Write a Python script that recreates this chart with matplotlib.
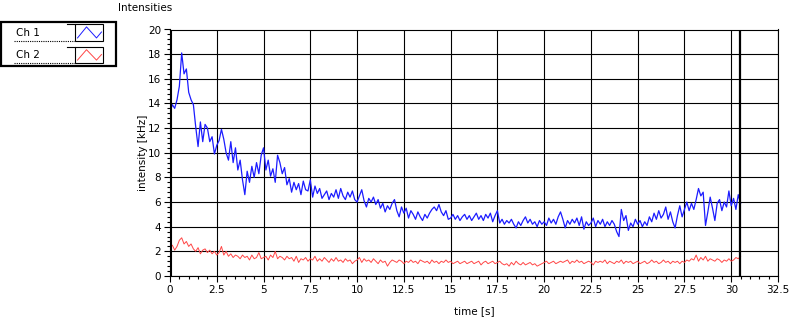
import numpy as np
import matplotlib
matplotlib.use('Agg')
import matplotlib.pyplot as plt
from matplotlib.ticker import MultipleLocator, FuncFormatter
from matplotlib.patches import Rectangle

plt.rcParams['font.family'] = 'DejaVu Sans'
plt.rcParams['font.size'] = 7.5

# sample spacing in seconds
dt = 0.125

ch1 = [
    13.3, 13.9, 13.6, 14.3, 15.4, 18.1, 16.4, 16.8,
    14.9, 14.3, 13.9, 12.1, 10.5, 12.5, 10.9, 12.3,
    12.0, 10.9, 11.3, 9.9, 10.6, 11.0, 11.9, 11.1,
    10.0, 9.4, 10.9, 9.2, 10.4, 8.6, 9.4, 7.8,
    6.6, 8.5, 7.6, 8.9, 8.0, 9.2, 8.3, 9.8,
    10.4, 8.6, 9.4, 8.1, 8.7, 7.6, 9.8, 9.2,
    8.3, 8.8, 7.4, 7.9, 6.8, 7.6, 7.0, 7.5,
    6.6, 7.7, 7.0, 6.9, 7.8, 6.4, 7.3, 6.7,
    7.1, 6.3, 6.6, 6.9, 6.2, 6.7, 6.4, 7.0,
    6.3, 7.1, 6.5, 6.2, 6.8, 6.4, 6.9, 6.2,
    6.0, 6.5, 7.0, 6.1, 5.6, 6.3, 6.0, 6.4,
    5.8, 6.2, 5.5, 5.9, 5.2, 5.7, 5.4, 5.9,
    6.2, 5.3, 4.8, 5.6, 5.1, 5.5, 4.7, 5.3,
    5.0, 4.6, 5.2, 4.8, 4.5, 5.0, 4.7, 5.1,
    5.4, 5.6, 5.3, 5.8, 5.2, 4.9, 5.3, 4.6,
    4.7, 5.0, 4.6, 4.9, 4.5, 4.8, 5.0, 4.6,
    4.9, 4.5, 4.8, 5.1, 4.6, 4.9, 4.5, 5.0,
    4.7, 5.1, 4.4, 4.9, 5.3, 4.3, 4.6, 4.2,
    4.5, 4.3, 4.6, 4.2, 3.9, 4.4, 4.1, 4.5,
    4.8, 4.3, 4.6, 4.2, 4.4, 4.0, 4.5, 4.2,
    4.4, 4.1, 4.7, 4.3, 4.6, 4.2, 4.8, 5.2,
    4.6, 3.9, 4.5, 4.2, 4.6, 4.3, 4.7, 4.1,
    4.8, 3.8, 4.4, 4.1, 4.3, 4.7, 4.0, 4.5,
    4.2, 4.6, 4.0, 4.4, 4.1, 4.5, 4.2, 3.6,
    3.2, 5.4, 4.5, 4.9, 3.7, 4.3, 4.0, 4.6,
    4.2, 4.5, 4.0, 4.4, 4.1, 4.8, 4.4, 5.1,
    4.6, 5.3, 4.7, 5.0, 5.6, 4.6, 5.2, 4.4,
    3.9, 4.9, 5.7, 4.8, 5.4, 6.0, 5.3, 5.9,
    5.4, 6.2, 7.1, 6.5, 6.8, 4.1, 5.2, 6.4,
    5.5, 4.5, 5.9, 6.2, 5.3, 6.0, 5.6, 6.9,
    5.7, 6.3, 5.4, 6.6, 5.9,
]

ch2 = [
    2.3, 2.5, 2.1, 2.4, 2.9, 3.1, 2.6, 2.8,
    2.4, 2.6, 2.2, 2.0, 2.3, 1.8, 2.1, 2.2,
    1.9, 2.1, 1.8, 2.0, 1.7, 1.9, 2.4, 1.7,
    2.0, 1.6, 1.8, 1.5, 1.7, 1.6, 1.4, 1.7,
    1.5, 1.6, 1.3, 1.7, 1.4, 1.5, 1.9, 1.4,
    1.5, 1.6, 1.3, 1.7, 1.5, 2.0, 1.4, 1.6,
    1.5, 1.3, 1.6, 1.4, 1.5, 1.2, 1.6, 1.1,
    1.4, 1.3, 1.5, 1.2, 1.4, 1.3, 1.6, 1.2,
    1.4, 1.2, 1.5, 1.3, 1.1, 1.4, 1.2, 1.5,
    1.2, 1.3, 1.1, 1.4, 1.2, 1.3, 1.0, 1.2,
    1.3, 1.5, 1.1, 1.4, 1.2, 1.3, 1.1, 1.4,
    1.2, 1.0, 1.3, 1.1, 1.2, 0.8, 1.1, 1.3,
    1.2, 1.1, 1.3, 1.2, 1.0, 1.2, 1.1, 1.3,
    1.1, 1.2, 1.0, 1.3, 1.2, 1.1, 1.2, 1.0,
    1.3, 1.1, 1.2, 1.0, 1.2, 1.1, 1.3, 1.1,
    1.2, 1.0, 1.1, 1.2, 1.0, 1.1, 1.2, 1.0,
    1.1, 1.2, 1.0, 1.1, 1.2, 0.9, 1.1, 1.2,
    1.0, 1.1, 1.2, 1.0, 1.1, 1.2, 1.0, 0.9,
    1.0, 0.8, 1.1, 0.9, 1.2, 1.0, 0.9, 1.1,
    0.9, 1.0, 1.1, 0.9, 1.0, 0.8, 0.9, 1.0,
    1.1, 1.2, 1.0, 1.1, 1.2, 1.0, 1.1, 1.2,
    1.1, 1.2, 1.3, 1.0, 1.2, 1.1, 1.3, 1.1,
    1.2, 1.0, 1.1, 1.2, 1.1, 0.9, 1.2, 1.1,
    1.2, 1.1, 1.3, 1.0, 1.2, 1.1, 1.0, 1.2,
    1.1, 1.3, 1.0, 1.2, 1.1, 1.2, 1.0, 1.1,
    1.2, 1.0, 1.1, 1.2, 1.0, 1.1, 1.3, 1.1,
    1.2, 1.0, 1.1, 1.3, 1.1, 1.2, 1.0, 1.2,
    1.1, 1.2, 1.0, 1.2, 1.1, 1.3, 1.2, 1.4,
    1.3, 1.7, 1.2, 1.5, 1.3, 1.6, 1.2, 1.4,
    1.3, 1.2, 1.4, 1.3, 1.1, 1.3, 1.2, 1.4,
    1.2, 1.3, 1.5, 1.4, 1.6,
]

names = ['Ch 1', 'Ch 2']
colors = ['#1c1cff', '#ff4646']
cursor_left = 0.08
cursor_right = 30.45

t1 = np.arange(len(ch1)) * dt
t2 = np.arange(len(ch2)) * dt

W, H = 802, 320
fig = plt.figure(figsize=(W / 100, H / 100), dpi=100)
ax = fig.add_axes([170 / W, 1 - 276 / H, 608 / W, 246.5 / H])

ax.plot(t1, ch1, color=colors[0], lw=0.9)
ax.plot(t2, ch2, color=colors[1], lw=0.7)
ax.axvline(cursor_left, color='k', lw=1.5)
ax.axvline(cursor_right, color='k', lw=1.6)

ax.set_xlim(0, 32.5)
ax.set_ylim(0, 20)
ax.xaxis.set_major_locator(MultipleLocator(2.5))
ax.xaxis.set_minor_locator(MultipleLocator(0.5))
ax.yaxis.set_major_locator(MultipleLocator(2))
ax.yaxis.set_minor_locator(MultipleLocator(0.4))
ax.xaxis.set_major_formatter(FuncFormatter(lambda v, p: '%g' % v))
ax.tick_params(which='major', length=4.5, width=0.8, color='k', pad=2)
ax.tick_params(which='minor', length=2, width=0.8, color='k')
ax.grid(which='major', color='k', lw=0.8)
for s in ax.spines.values():
    s.set_linewidth(0.8)

ax.set_xlabel('time [s]', labelpad=8)
ax.set_ylabel('intensity [kHz]', labelpad=0)
fig.text(118 / W, 1 - 8 / H, 'Intensities', ha='left', va='center')

# legend box drawn in pixel coordinates on an overlay
lg = fig.add_axes([0, 0, 1, 1])
lg.set_xlim(0, W)
lg.set_ylim(H, 0)
lg.axis('off')
lg.add_patch(Rectangle((1, 21.5), 115, 44, fill=False, ec='k', lw=1.6))
rows = [(23.5, 40.5), (46.5, 62.5)]
zig = [(77.5, 0.85), (86.5, 0.2), (96.5, 0.85), (101.5, 0.5)]
for (top, bot), name, c in zip(rows, names, colors):
    lg.text(16, (top + bot) / 2 + 1, name, ha='left', va='center', fontsize=7.5)
    lg.plot([14, 75], [bot, bot], color='k', lw=0.8, ls=(0, (1, 1)))
    lg.plot([67, 75], [top, top], color='k', lw=0.8)
    lg.add_patch(Rectangle((75, top), 28, bot - top, fill=False, ec='k', lw=0.8))
    lg.plot([p[0] for p in zig], [top + p[1] * (bot - top) for p in zig], color=c, lw=0.7)

fig.savefig('out.png', dpi=100)
